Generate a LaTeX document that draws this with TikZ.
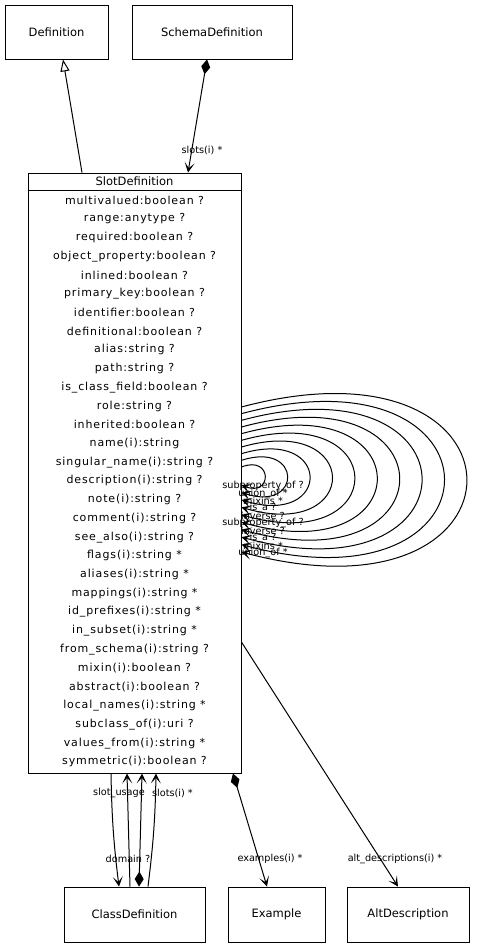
\documentclass[tikz,border=0pt]{standalone}
\usepackage{fontspec}
\setmainfont{DejaVu Sans}
\newfontfamily\attrfont[LetterSpace=8]{DejaVu Sans}
\usetikzlibrary{arrows.meta,positioning}

\tikzset{
  classbox/.style={draw, line width=0.9pt, inner sep=0pt, font=\fontsize{11.5}{13}\selectfont},
  attrtext/.style={inner sep=0pt, font=\attrfont\fontsize{11}{13}\selectfont},
  edgelabel/.style={inner sep=0pt, font=\fontsize{9.7}{11}\selectfont},
  assoc/.style={line width=1pt, -{Stealth[length=10pt,width=10pt,inset=5.5pt]}},
  compose/.style={line width=1pt, {Diamond[length=15pt,width=9pt]}-{Stealth[length=10pt,width=10pt,inset=5.5pt]}},
  inherit/.style={line width=1pt, -{Triangle[open,length=12pt,width=9pt]}},
}

\begin{document}
\begin{tikzpicture}[x=1pt, y=-1pt]
  \useasboundingbox (0,0) rectangle (488,948);

  % classes
  \node[classbox, minimum width=103pt, minimum height=54pt] (def) at (56.5,32) {Definition};
  \node[classbox, minimum width=160pt, minimum height=54pt] (schema) at (212,32) {SchemaDefinition};
  \node[classbox, minimum width=213pt, minimum height=600pt] (sd) at (134.5,473) {};
  \node[classbox, minimum width=141pt, minimum height=55pt] (cls) at (134.5,914.5) {ClassDefinition};
  \node[classbox, minimum width=97pt, minimum height=55pt] (ex) at (276.5,914.5) {Example};
  \node[classbox, minimum width=122pt, minimum height=55pt] (alt) at (408,914.5) {AltDescription};

  % slot definition header and attributes
  \node[font=\fontsize{11.5}{13}\selectfont, inner sep=0pt] (sdname) at ([yshift=-9pt]sd.north) {SlotDefinition};
  \draw[line width=0.9pt] ([yshift=-18pt]sd.north west) -- ([yshift=-18pt]sd.north east);
  \foreach \attr [count=\n] in {multivalued:boolean ?, range:anytype ?, required:boolean ?,
      object\_property:boolean ?, inlined:boolean ?, primary\_key:boolean ?, identifier:boolean ?,
      definitional:boolean ?, alias:string ?, path:string ?, is\_class\_field:boolean ?,
      role:string ?, inherited:boolean ?, name(i):string, singular\_name(i):string ?,
      description(i):string ?, note(i):string ?, comment(i):string ?, see\_also(i):string ?,
      flags(i):string *, aliases(i):string *, mappings(i):string *, id\_prefixes(i):string *,
      in\_subset(i):string *, from\_schema(i):string ?, mixin(i):boolean ?, abstract(i):boolean ?,
      local\_names(i):string *, subclass\_of(i):uri ?, values\_from(i):string *, symmetric(i):boolean ?}
    \node[attrtext] (attr\n) at (134.5,{200+(\n-1)*18.73}) {\attr};

  % inheritance and composition at the top
  \draw[inherit] ([xshift=-52.5pt]sd.north) -- ([xshift=6.5pt]def.south);
  \draw[compose] ([xshift=-5pt]schema.south) -- ([xshift=53.5pt]sd.north);
  \node[edgelabel] (lslots) at (202,150) {slots(i) *};

  % self associations
  \foreach \i/\lbl in {0/union\_of *, 1/mixins *, 2/is\_a ?, 3/inverse ?, 4/subproperty\_of ?,
      5/inverse ?, 6/is\_a ?, 7/mixins *, 8/union\_of *, 9/subproperty\_of ?}{
    \pgfmathsetmacro\ys{407+6.67*\i}
    \pgfmathsetmacro\ye{552-7.44*\i}
    \pgfmathsetmacro\cc{(225-22.4*\i)/0.75}
    \pgfmathsetmacro\dd{80-7.5*\i}
    \draw[assoc] (sd.east |- 0,\ys) .. controls +(\cc,-\dd) and +(\cc,\dd) .. (sd.east |- 0,\ye);
    \node[edgelabel] (lself\i) at (263,{\ye+1}) {\lbl};
  }

  % class definition links
  \draw[assoc] ([xshift=-23.5pt]sd.south) to[bend right=3] ([xshift=-15.5pt]cls.north);
  \draw[assoc] ([xshift=-4.5pt]cls.north) -- ([xshift=-7.5pt]sd.south);
  \draw[compose] ([xshift=4.5pt]cls.north) -- ([xshift=7.5pt]sd.south);
  \draw[assoc] ([xshift=13.5pt]cls.north) to[bend right=3] ([xshift=21.5pt]sd.south);
  \node[edgelabel] (ldomain) at (128,859) {domain ?};
  \node[edgelabel, anchor=west] (lusage) at (93,793) {slot\_usage};
  \node[edgelabel, anchor=east] (lclsslots) at (193,793) {slots(i) *};

  % examples and alt descriptions
  \draw[compose] ([xshift=98.5pt]sd.south) -- ([xshift=-9.5pt]ex.north);
  \node[edgelabel] (lexamples) at (270,859) {examples(i) *};
  \draw[assoc] ([yshift=-169pt]sd.east) -- ([xshift=-10pt]alt.north);
  \node[edgelabel] (lalt) at (395,859) {alt\_descriptions(i) *};
\end{tikzpicture}
\end{document}
